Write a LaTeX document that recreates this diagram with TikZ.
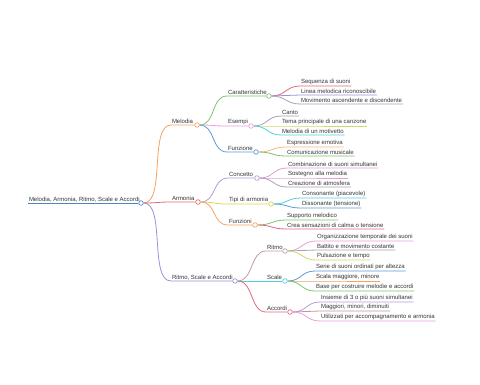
\documentclass[tikz,border=0pt]{standalone}
\usepackage{fontspec}
\setmainfont{Liberation Sans}
\usetikzlibrary{calc}

\definecolor{cblue}{HTML}{4A86D0}
\definecolor{corange}{HTML}{F4A261}
\definecolor{cred}{HTML}{E06C6C}
\definecolor{cpurple}{HTML}{9D8FDA}
\definecolor{cgreen}{HTML}{7CC46A}
\definecolor{cpink}{HTML}{E9A0D6}
\definecolor{cblue2}{HTML}{5B9BD5}
\definecolor{clav}{HTML}{B39CD9}
\definecolor{cyellow}{HTML}{D6D64A}
\definecolor{cmauve}{HTML}{C29C9C}
\definecolor{ccyan}{HTML}{4FCFE0}
\definecolor{cred2}{HTML}{E0667E}
\definecolor{cgray}{HTML}{A9A0B8}
\definecolor{clime}{HTML}{CFD86A}

\tikzset{
  lbl/.style={anchor=south west, inner sep=0.8pt, font=\fontsize{6}{7}\selectfont, text=black!80},
  dot/.style={circle, fill=white, line width=0.7pt, inner sep=0pt, minimum size=4.6pt},
  br/.style={line width=0.8pt}
}

\begin{document}
\begin{tikzpicture}[x=1pt,y=-1pt]
\useasboundingbox (0,0) rectangle (480,384);

% root
\node[lbl] (root) at (28,203) {Melodia, Armonia, Ritmo, Scale e Accordi};
\node[dot, draw=cblue] (root-c) at (141,203) {};
\draw[br, cblue] (root.south west) -- (root-c.west);

% level one
\node[lbl] (mel) at (171,125) {Melodia};
\node[dot, draw=corange] (mel-c) at (197,125) {};
\node[lbl] (arm) at (171,202) {Armonia};
\node[dot, draw=cred] (arm-c) at (198,202) {};
\node[lbl] (rsa) at (171,281) {Ritmo, Scale e Accordi};
\node[dot, draw=cpurple] (rsa-c) at (235,281) {};

\draw[br, corange] (root-c.east) .. controls +(22,0) and +(-22,0) .. (mel.south west) -- (mel-c.west);
\draw[br, cred] (root-c.east) .. controls +(15,0) and +(-15,0) .. (arm.south west) -- (arm-c.west);
\draw[br, cpurple] (root-c.east) .. controls +(22,0) and +(-22,0) .. (rsa.south west) -- (rsa-c.west);

% Melodia
\node[lbl] (car) at (227,96) {Caratteristiche};
\node[dot, draw=cgreen] (car-c) at (269,96) {};
\node[lbl] (ese) at (227,126) {Esempi};
\node[dot, draw=cpink] (ese-c) at (251,126) {};
\node[lbl] (fun) at (227,152) {Funzione};
\node[dot, draw=cblue2] (fun-c) at (256,152) {};

\draw[br, cgreen] (mel-c.east) .. controls +(16,0) and +(-16,0) .. (car.south west) -- (car-c.west);
\draw[br, cpink] (mel-c.east) .. controls +(16,0) and +(-16,0) .. (ese.south west) -- (ese-c.west);
\draw[br, cblue2] (mel-c.east) .. controls +(16,0) and +(-16,0) .. (fun.south west) -- (fun-c.west);

\node[lbl] (car1) at (300,86) {Sequenza di suoni};
\node[lbl] (car2) at (300,95) {Linea melodica riconoscibile};
\node[lbl] (car3) at (300,104) {Movimento ascendente e discendente};
\draw[br, cred] (car-c.east) .. controls +(14,0) and +(-14,0) .. (car1.south west) -- (car1.south east);
\draw[br, cpurple] (car-c.east) .. controls +(14,0) and +(-14,0) .. (car2.south west) -- (car2.south east);
\draw[br, cgray] (car-c.east) .. controls +(14,0) and +(-14,0) .. (car3.south west) -- (car3.south east);

\node[lbl] (ese1) at (281,116) {Canto};
\node[lbl] (ese2) at (281,126) {Tema principale di una canzone};
\node[lbl] (ese3) at (281,135) {Melodia di un motivetto};
\draw[br, cgray] (ese-c.east) .. controls +(14,0) and +(-14,0) .. (ese1.south west) -- (ese1.south east);
\draw[br, clime] (ese-c.east) .. controls +(14,0) and +(-14,0) .. (ese2.south west) -- (ese2.south east);
\draw[br, ccyan] (ese-c.east) .. controls +(14,0) and +(-14,0) .. (ese3.south west) -- (ese3.south east);

\node[lbl] (fun1) at (286,147) {Espressione emotiva};
\node[lbl] (fun2) at (286,156) {Comunicazione musicale};
\draw[br, corange!80] (fun-c.east) .. controls +(14,0) and +(-14,0) .. (fun1.south west) -- (fun1.south east);
\draw[br, cgreen] (fun-c.east) .. controls +(14,0) and +(-14,0) .. (fun2.south west) -- (fun2.south east);

% Armonia
\node[lbl] (con) at (228,178) {Concetto};
\node[dot, draw=clav] (con-c) at (257,178) {};
\node[lbl] (tip) at (228,204) {Tipi di armonia};
\node[dot, draw=cyellow] (tip-c) at (271,204) {};
\node[lbl] (fni) at (228,225) {Funzioni};
\node[dot, draw=corange] (fni-c) at (255,225) {};

\draw[br, clav] (arm-c.east) .. controls +(16,0) and +(-16,0) .. (con.south west) -- (con-c.west);
\draw[br, cyellow] (arm-c.east) .. controls +(16,0) and +(-16,0) .. (tip.south west) -- (tip-c.west);
\draw[br, corange] (arm-c.east) .. controls +(16,0) and +(-16,0) .. (fni.south west) -- (fni-c.west);

\node[lbl] (con1) at (287,168) {Combinazione di suoni simultanei};
\node[lbl] (con2) at (287,178) {Sostegno alla melodia};
\node[lbl] (con3) at (287,187) {Creazione di atmosfera};
\draw[br, cpink!80!cgray] (con-c.east) .. controls +(14,0) and +(-14,0) .. (con1.south west) -- (con1.south east);
\draw[br, cpink] (con-c.east) .. controls +(14,0) and +(-14,0) .. (con2.south west) -- (con2.south east);
\draw[br, cgray] (con-c.east) .. controls +(14,0) and +(-14,0) .. (con3.south west) -- (con3.south east);

\node[lbl] (tip1) at (301,198) {Consonante (piacevole)};
\node[lbl] (tip2) at (301,208) {Dissonante (tensione)};
\draw[br, ccyan] (tip-c.east) .. controls +(14,0) and +(-14,0) .. (tip1.south west) -- (tip1.south east);
\draw[br, cblue2] (tip-c.east) .. controls +(14,0) and +(-14,0) .. (tip2.south west) -- (tip2.south east);

\node[lbl] (fni1) at (286,220) {Supporto melodico};
\node[lbl] (fni2) at (286,229) {Crea sensazioni di calma o tensione};
\draw[br, cgreen] (fni-c.east) .. controls +(14,0) and +(-14,0) .. (fni1.south west) -- (fni1.south east);
\draw[br, cred2] (fni-c.east) .. controls +(14,0) and +(-14,0) .. (fni2.south west) -- (fni2.south east);

% Ritmo, Scale e Accordi
\node[lbl] (rit) at (266,251) {Ritmo};
\node[dot, draw=cmauve] (rit-c) at (285,251) {};
\node[lbl] (sca) at (266,281) {Scale};
\node[dot, draw=ccyan] (sca-c) at (285,281) {};
\node[lbl] (acc) at (266,312) {Accordi};
\node[dot, draw=cred2] (acc-c) at (290,312) {};

\draw[br, cmauve] (rsa-c.east) .. controls +(16,0) and +(-16,0) .. (rit.south west) -- (rit-c.west);
\draw[br, ccyan] (rsa-c.east) -- (sca-c.west);
\draw[br, cred2] (rsa-c.east) .. controls +(16,0) and +(-16,0) .. (acc.south west) -- (acc-c.west);

\node[lbl] (rit1) at (316,241) {Organizzazione temporale dei suoni};
\node[lbl] (rit2) at (316,250) {Battito e movimento costante};
\node[lbl] (rit3) at (316,260) {Pulsazione e tempo};
\draw[br, cpink] (rit-c.east) .. controls +(14,0) and +(-14,0) .. (rit1.south west) -- (rit1.south east);
\draw[br, cgray] (rit-c.east) .. controls +(14,0) and +(-14,0) .. (rit2.south west) -- (rit2.south east);
\draw[br, clime] (rit-c.east) .. controls +(14,0) and +(-14,0) .. (rit3.south west) -- (rit3.south east);

\node[lbl] (sca1) at (315,271) {Serie di suoni ordinati per altezza};
\node[lbl] (sca2) at (315,281) {Scala maggiore, minore};
\node[lbl] (sca3) at (315,291) {Base per costruire melodie e accordi};
\draw[br, cblue2] (sca-c.east) .. controls +(14,0) and +(-14,0) .. (sca1.south west) -- (sca1.south east);
\draw[br, corange] (sca-c.east) .. controls +(14,0) and +(-14,0) .. (sca2.south west) -- (sca2.south east);
\draw[br, cgreen] (sca-c.east) .. controls +(14,0) and +(-14,0) .. (sca3.south west) -- (sca3.south east);

\node[lbl] (acc1) at (320,302) {Insieme di 3 o più suoni simultanei};
\node[lbl] (acc2) at (320,311) {Maggiori, minori, diminuiti};
\node[lbl] (acc3) at (320,321) {Utilizzati per accompagnamento e armonia};
\draw[br, clav] (acc-c.east) .. controls +(14,0) and +(-14,0) .. (acc1.south west) -- (acc1.south east);
\draw[br, cmauve!80!cred] (acc-c.east) .. controls +(14,0) and +(-14,0) .. (acc2.south west) -- (acc2.south east);
\draw[br, cpink] (acc-c.east) .. controls +(14,0) and +(-14,0) .. (acc3.south west) -- (acc3.south east);

\end{tikzpicture}
\end{document}
